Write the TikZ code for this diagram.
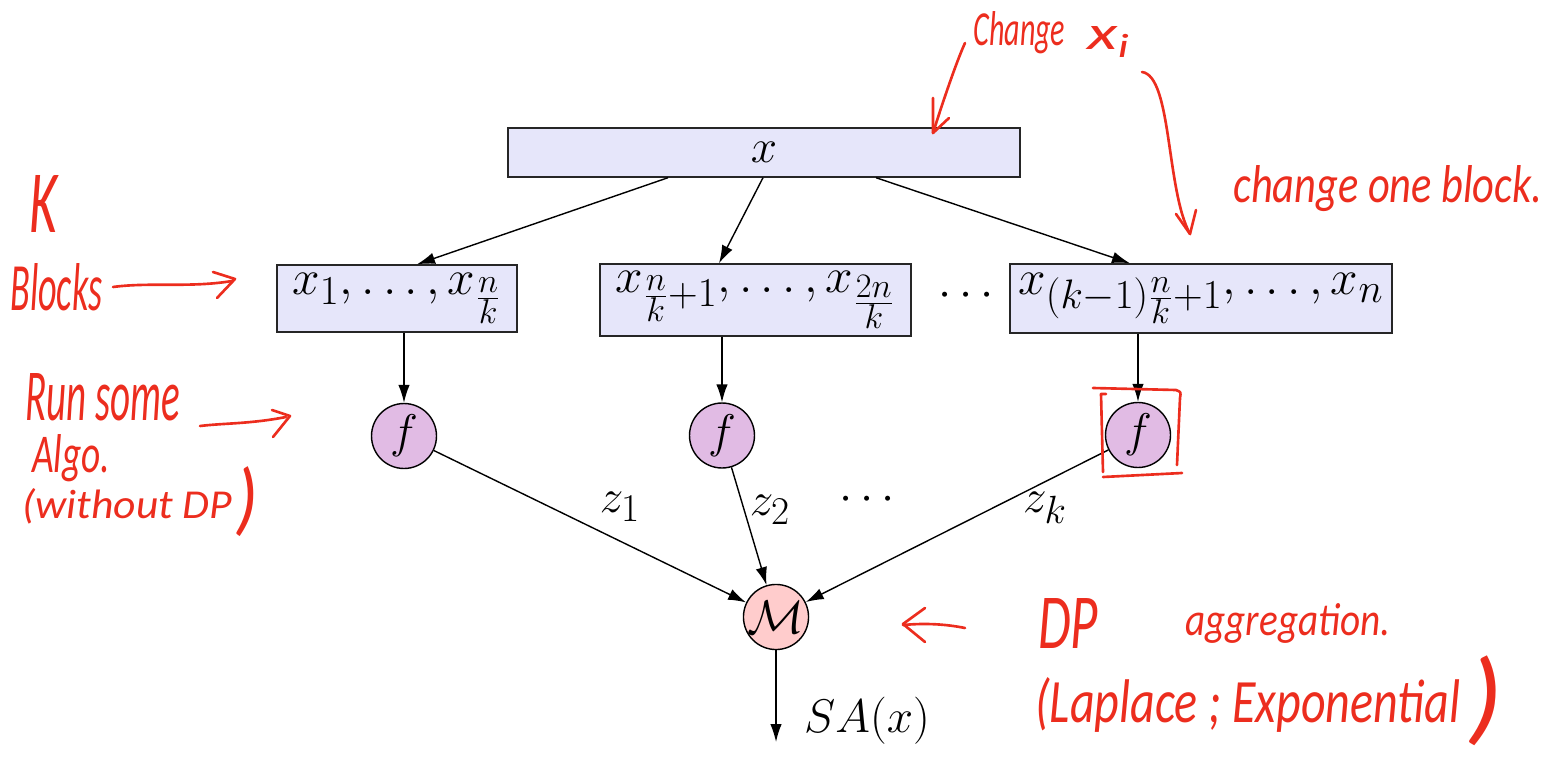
\documentclass[tikz,border=0pt]{standalone}
\usepackage{fontspec}
\usepackage{graphicx}
\usetikzlibrary{arrows.meta,calc}
\newfontfamily\handfont{Carlito}
\definecolor{boxfill}{RGB}{230,230,250}
\definecolor{ffill}{RGB}{225,187,228}
\definecolor{mfill}{RGB}{255,204,204}
\definecolor{handred}{RGB}{236,45,30}
\newcommand\hwtext[3]{\resizebox{#1}{#2}{\handfont\itshape #3}}
\newcommand\mlbl[1]{\scalebox{1.08}{$#1$}}
\newcommand\mblk[1]{\scalebox{1.13}{$#1$}}
\tikzset{
  mathfont/.style={font=\fontsize{24.88}{30}\selectfont},
  blockbox/.style={draw=black!85, line width=0.8pt, fill=boxfill, inner sep=0pt, mathfont},
  fcirc/.style={circle, draw=black, line width=0.8pt, fill=ffill, minimum size=1.3cm, inner sep=0pt, mathfont},
  mcirc/.style={circle, draw=black, line width=0.8pt, fill=mfill, minimum size=1.3cm, inner sep=0pt, mathfont},
  arr/.style={draw=black, line width=0.8pt, -{Latex[length=3.6mm,width=2.3mm]}},
  lbl/.style={inner sep=0pt, mathfont},
  hw/.style={text=handred, inner sep=0pt, anchor=base west},
  hwc/.style={text=handred, inner sep=0pt},
  handline/.style={draw=handred, line width=1.5pt, line cap=round, line join=round},
}
\begin{document}
\begin{tikzpicture}[x=0.02cm,y=-0.02cm]
\useasboundingbox (0,0) rectangle (1559,757);
% main diagram
\node[blockbox, minimum width=10.24cm, minimum height=0.98cm] (top) at (764,152.5) {\mlbl{x}};
\node[blockbox, minimum width=4.8cm, minimum height=1.34cm] (b1) at (397,298.5) {\mblk{x_1,\dots,x_{\frac{n}{k}}}};
\node[blockbox, minimum width=6.22cm, minimum height=1.44cm] (b2) at (755.5,300) {\mblk{x_{\frac{n}{k}+1},\dots,x_{\frac{2n}{k}}}};
\node[blockbox, minimum width=7.64cm, minimum height=1.38cm] (b3) at (1201,298.5) {\mblk{x_{(k-1)\frac{n}{k}+1},\dots,x_n}};
\node[lbl] (bdots) at (966,296) {\mlbl{\cdots}};
\node[fcirc] (f1) at (404,436) {\mlbl{f}};
\node[fcirc] (f2) at (722,435.5) {\mlbl{f}};
\node[fcirc] (f3) at (1138,435) {\mlbl{f}};
\node[mcirc] (M) at (776,617) {\mlbl{\mathcal{M}}};
\coordinate (out) at (776,742);
\node[lbl] (z1) at (620,507) {\mlbl{z_1}};
\node[lbl] (z2) at (770,510) {\mlbl{z_2}};
\node[lbl] (zdots) at (867,500) {\mlbl{\cdots}};
\node[lbl] (zk) at (1045,508) {\mlbl{z_k}};
\node[lbl] (sa) at (867,721) {\mlbl{SA(x)}};
\draw[arr] ([xshift=-1.92cm]top.south) -- ([xshift=0.4cm]b1.north);
\draw[arr] ([xshift=-0.02cm]top.south) -- ([xshift=-0.73cm]b2.north);
\draw[arr] ([xshift=2.24cm]top.south) -- ([xshift=-1.42cm]b3.north);
\draw[arr] (f1 |- b1.south) -- (f1);
\draw[arr] (f2 |- b2.south) -- (f2);
\draw[arr] (f3 |- b3.south) -- (f3);
\draw[arr] (f1) -- (M);
\draw[arr] (f2) -- (M);
\draw[arr] (f3) -- (M);
\draw[arr] (M) -- (out);
% handwritten annotations
\node[hw] (hchange) at (973,46) {\hwtext{1.84cm}{0.68cm}{Change}};
\node[hw] (hxi) at (1087,50) {\hwtext{0.9cm}{0.46cm}{x\textsubscript{i}}};
\node[hw] (hblock) at (1233,202) {\hwtext{6.18cm}{0.74cm}{change one block.}};
\node[hw] (hK) at (29,232) {\hwtext{0.56cm}{1.14cm}{K}};
\node[hw] (hBlocks) at (10,310) {\hwtext{1.84cm}{0.94cm}{Blocks}};
\node[hw] (hrun) at (25,420) {\hwtext{3.1cm}{0.94cm}{Run some}};
\node[hw] (halgo) at (32,472) {\hwtext{1.56cm}{0.76cm}{Algo.}};
\node[hw] (hwithout) at (22,518) {\hwtext{4.2cm}{0.6cm}{(without DP}};
\node[hwc] (hparA) at (247,502) {\resizebox*{0.46cm}{1.4cm}{\handfont\itshape )}};
\node[hw] (hDP) at (1038,648) {\hwtext{1.2cm}{1.0cm}{DP}};
\node[hw] (hagg) at (1185,635) {\hwtext{4.1cm}{0.64cm}{aggregation.}};
\node[hw] (hlap) at (1035,722) {\hwtext{8.5cm}{0.9cm}{(Laplace ; Exponential}};
\node[hwc] (hparB) at (1485,701) {\resizebox*{0.72cm}{1.8cm}{\handfont\itshape )}};
% handwritten strokes
\draw[handline] (965,43) .. controls (958,58) and (945,95) .. (933,133);
\draw[handline] (933,98) -- (933,133) -- (949,118);
\draw[handline] (1142,72) .. controls (1172,76) and (1166,190) .. (1190,234);
\draw[handline] (1176,214) -- (1190,234) -- (1196,210);
\draw[handline] (113,287) .. controls (150,282) and (190,288) .. (232,281);
\draw[handline] (213,272) -- (235,279) -- (217,298);
\draw[handline] (200,426) .. controls (225,423) and (250,424) .. (286,417);
\draw[handline] (272,410) -- (290,416) -- (273,437);
\draw[handline] (965,628) .. controls (945,624) and (925,623) .. (903,625);
\draw[handline] (925,608) -- (903,624) -- (925,642);
\draw[handline] (1093,388) -- (1176,390) .. controls (1181,392) .. (1180,398) -- (1177,465);
\draw[handline] (1106,394) -- (1101,394) -- (1103,472);
\draw[handline] (1103,477) -- (1182,473);
\end{tikzpicture}
\end{document}
